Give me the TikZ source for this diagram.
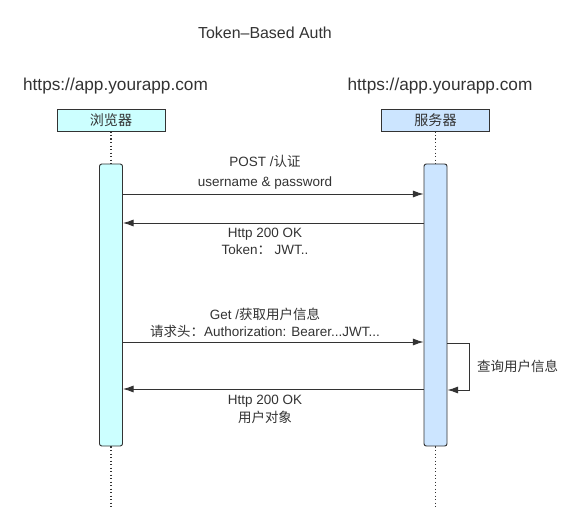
\documentclass[tikz,border=0pt]{standalone}
\usepackage{fontspec}
\setmainfont{Liberation Sans}
\newfontfamily\cjk{Noto Sans CJK SC}
\usetikzlibrary{arrows.meta}
\definecolor{encre}{HTML}{333333}
\definecolor{cyanclair}{HTML}{CCFFFF}
\definecolor{bleuclair}{HTML}{CCE5FF}
\tikzset{
  entete/.style={draw=encre, line width=0.8pt, minimum width=3.24cm, minimum height=0.66cm, inner sep=0pt, font=\cjk\fontsize{12}{14}\selectfont, text=encre},
  activ/.style={draw=encre, line width=0.8pt, rounded corners=2pt, minimum width=0.69cm, minimum height=8.46cm, inner sep=0pt},
  vie/.style={encre, dotted, line width=1pt},
  msg/.style={encre, line width=0.8pt, -{Latex[length=9pt,width=6pt]}},
  texte/.style={text=encre, inner sep=0pt, font=\fontsize{11.5}{13}\selectfont}
}
\begin{document}
\begin{tikzpicture}[x=0.03cm, y=-0.03cm]
\useasboundingbox[fill=white] (0,0) rectangle (585,509);
% Titre et adresses
\node[texte, font=\fontsize{13.6}{15}\selectfont] (titre) at (265,33) {Token–Based Auth};
\node[texte, font=\fontsize{14.7}{16}\selectfont] (urlA) at (115.5,86) {https://app.yourapp.com};
\node[texte, font=\fontsize{14.7}{16}\selectfont] (urlB) at (440,86) {https://app.yourapp.com};
% Participants
\node[entete, fill=cyanclair] (navig) at (111,120) {浏览器};
\node[entete, fill=bleuclair] (serveur) at (435.5,120) {服务器};
% Barres d'activation
\node[activ, fill=cyanclair] (actA) at (111,305) {};
\node[activ, fill=bleuclair] (actB) at (435.5,305) {};
\coordinate (finA) at (111,509);
\coordinate (finB) at (435.5,509);
% Lignes de vie
\draw[vie] (navig) -- (actA);
\draw[vie] (serveur) -- (actB);
\draw[vie] (actA) -- (finA);
\draw[vie] (actB) -- (finB);
% Connexion
\draw[msg] (actA.east |- 0,194) -- (actB.west |- 0,194);
\node[texte] (post) at (265,161) {POST /{\cjk 认证}};
\node[texte] (ident) at (265,183) {username \& password};
\draw[msg] (actB.west |- 0,223) -- (actA.east |- 0,223);
\node[texte] (ok1) at (265,234) {Http 200 OK};
\node[texte] (jeton) at (265,250) {Token{\cjk ：} JWT..};
% Requete avec le jeton
\node[texte] (get) at (265,314) {Get /{\cjk 获取用户信息}};
\node[texte] (tete) at (265,331) {{\cjk 请求头：}Authorization: Bearer...JWT...};
\draw[msg] (actA.east |- 0,342) -- (actB.west |- 0,342);
\draw[msg] (actB.east |- 0,343) -- ++(22,0) |- (actB.east |- 0,390);
\node[texte, anchor=west] (requete) at (477,366) {\cjk 查询用户信息};
\draw[msg] (actB.west |- 0,389) -- (actA.east |- 0,389);
\node[texte] (ok2) at (265,401) {Http 200 OK};
\node[texte] (objet) at (265,417) {\cjk 用户对象};
\end{tikzpicture}
\end{document}
